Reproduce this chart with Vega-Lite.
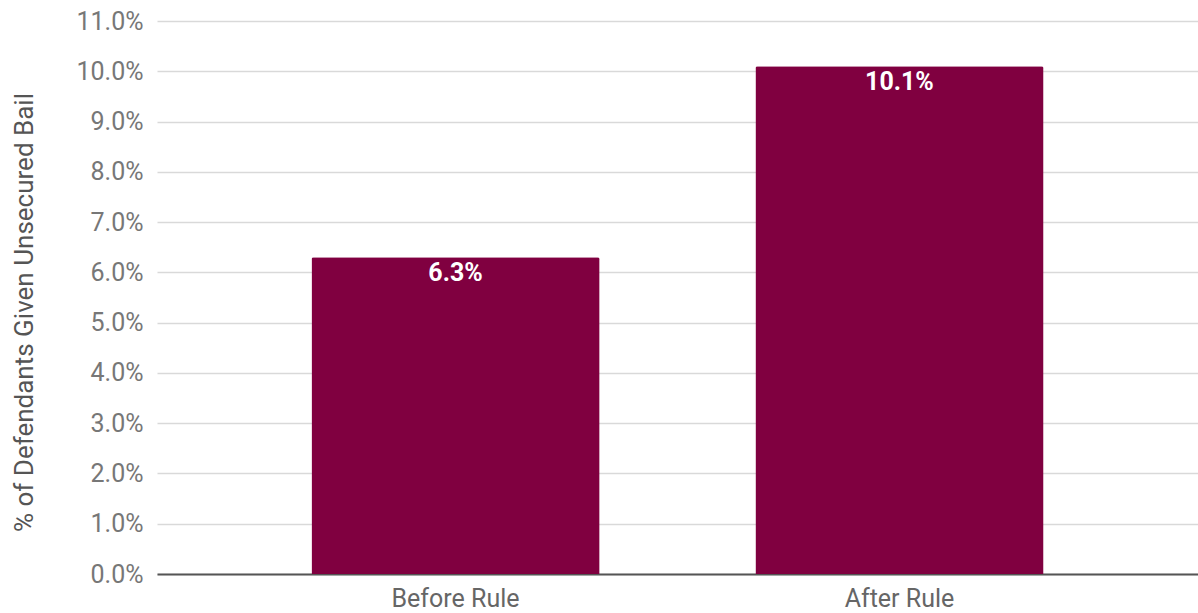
{
  "$schema": "https://vega.github.io/schema/vega-lite/v6.json",
  "autosize": {"type": "none"},
  "width": 1041,
  "height": 553,
  "padding": {"left": 157, "top": 21, "right": 0, "bottom": 39},
  "background": "white",
  "config": {
    "view": {"stroke": null},
    "font": "Roboto"
  },
  "data": {
    "values": [
      {"period": "Before Rule", "rate": 0.063},
      {"period": "After Rule", "rate": 0.101}
    ]
  },
  "encoding": {
    "x": {
      "field": "period",
      "type": "nominal",
      "sort": null,
      "scale": {"paddingInner": 0.351, "paddingOuter": 0.348},
      "axis": {
        "title": null,
        "labelAngle": 0,
        "labelFont": "Roboto",
        "labelFontSize": 25,
        "labelColor": "#666666",
        "labelPadding": 12,
        "ticks": false,
        "domainColor": "#555555",
        "domainWidth": 2,
        "grid": false
      }
    },
    "y": {
      "field": "rate",
      "type": "quantitative",
      "scale": {"domain": [0, 0.11], "nice": false},
      "axis": {
        "title": "% of Defendants Given Unsecured Bail",
        "titleFont": "Roboto",
        "titleFontSize": 26,
        "titleFontWeight": "normal",
        "titleColor": "#555555",
        "titlePadding": 38,
        "titleY": 291,
        "format": ".1%",
        "values": [0, 0.01, 0.02, 0.03, 0.04, 0.05, 0.06, 0.07, 0.08, 0.09, 0.10, 0.11],
        "labelFont": "Roboto",
        "labelFontSize": 25,
        "labelColor": "#777777",
        "labelPadding": 14,
        "ticks": false,
        "domain": false,
        "grid": true,
        "gridColor": "#d9d9d9",
        "gridWidth": 1.5
      }
    }
  },
  "layer": [
    {
      "mark": {"type": "bar", "color": "#800040", "cornerRadiusTopLeft": 2, "cornerRadiusTopRight": 2}
    },
    {
      "mark": {"type": "text", "baseline": "top", "dy": 4, "color": "white", "fontWeight": "bold", "fontSize": 25, "font": "Roboto"},
      "encoding": {
        "text": {"field": "rate", "type": "quantitative", "format": ".1%"}
      }
    }
  ]
}
